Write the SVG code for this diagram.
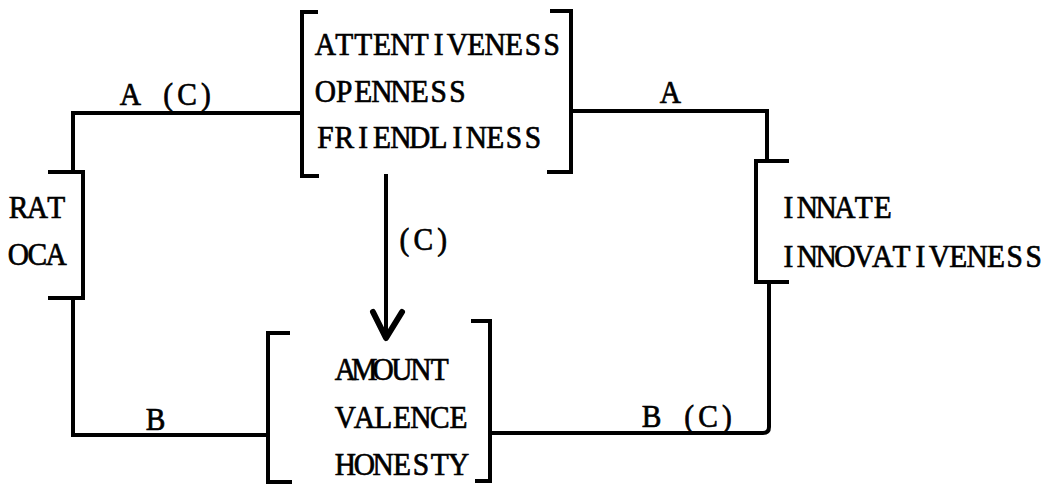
<svg xmlns="http://www.w3.org/2000/svg" width="1051" height="487" viewBox="0 0 1051 487">
<style>
  .ln { fill: none; stroke: #000; stroke-width: 4; stroke-linecap: square; stroke-linejoin: miter; }
  .t { font-family: "Liberation Serif", "Times New Roman", serif; font-size: 32px; text-anchor: middle; fill: #000; stroke: #000; stroke-width: 0.7; }
</style>
<rect width="1051" height="487" fill="#fff"/>
<g id="connectors">
  <path class="ln" d="M300,113 H73 V172"/>
  <path class="ln" d="M73,298 V435 H268"/>
  <path class="ln" d="M490,433 H763 Q769,433 769,427 V283"/>
  <path class="ln" d="M767,160 V111 H571"/>
  <path class="ln" d="M386,176 V334"/>
  <path d="M373,312 L386,338 L402,312" fill="none" stroke="#000" stroke-width="6" stroke-linejoin="round" stroke-linecap="round"/>
  <text class="t" transform="translate(121,105) scale(0.92,1)" x="10.25 30.75 51.25 71.75 92.25" y="0">A (C)</text>
  <text class="t" transform="translate(661,103) scale(0.92,1)" x="10.25" y="0">A</text>
  <text class="t" transform="translate(395,250) scale(0.92,1)" x="10.25 30.75 51.25" y="0">(C)</text>
  <text class="t" transform="translate(146,430) scale(0.92,1)" x="10.25" y="0">B</text>
  <text class="t" transform="translate(642,427) scale(0.92,1)" x="10.25 30.75 51.25 71.75 92.25" y="0">B (C)</text>
</g>
<g id="node-attentiveness">
  <path class="ln" d="M316,12 H302 V176 H317"/>
  <path class="ln" d="M552,11 H571 V172 H549"/>
  <text class="t" transform="translate(316,55) scale(0.92,1)" x="10.25 30.75 51.25 71.75 92.25 112.75 133.25 153.75 174.25 194.75 215.25 235.75 256.25" y="0">ATTENTIVENESS</text>
  <text class="t" transform="translate(316,102) scale(0.92,1)" x="10.25 30.75 51.25 71.75 92.25 112.75 133.25 153.75" y="0">OPENNESS</text>
  <text class="t" transform="translate(316,148) scale(0.92,1)" x="10.25 30.75 51.25 71.75 92.25 112.75 133.25 153.75 174.25 194.75 215.25 235.75" y="0">FRIENDLINESS</text>
</g>
<g id="node-ratoca">
  <path class="ln" d="M50,172 H83 V298 H50"/>
  <text class="t" transform="translate(9,218) scale(0.92,1)" x="10.25 30.75 51.25" y="0">RAT</text>
  <text class="t" transform="translate(9,265) scale(0.92,1)" x="10.25 30.75 51.25" y="0">OCA</text>
</g>
<g id="node-innate">
  <path class="ln" d="M787,161 H756 V282 H787"/>
  <text class="t" transform="translate(779,218) scale(0.92,1)" x="10.25 30.75 51.25 71.75 92.25 112.75" y="0">INNATE</text>
  <text class="t" transform="translate(779,267) scale(0.92,1)" x="10.25 30.75 51.25 71.75 92.25 112.75 133.25 153.75 174.25 194.75 215.25 235.75 256.25 276.75" y="0">INNOVATIVENESS</text>
</g>
<g id="node-amount">
  <path class="ln" d="M288,333 H268 V482 H290"/>
  <path class="ln" d="M473,321 H490 V481 H477"/>
  <text class="t" transform="translate(336,380) scale(0.92,1)" x="10.25 30.75 51.25 71.75 92.25 112.75" y="0">AMOUNT</text>
  <text class="t" transform="translate(336,428) scale(0.92,1)" x="10.25 30.75 51.25 71.75 92.25 112.75 133.25" y="0">VALENCE</text>
  <text class="t" transform="translate(336,475) scale(0.92,1)" x="10.25 30.75 51.25 71.75 92.25 112.75 133.25" y="0">HONESTY</text>
</g>
</svg>
